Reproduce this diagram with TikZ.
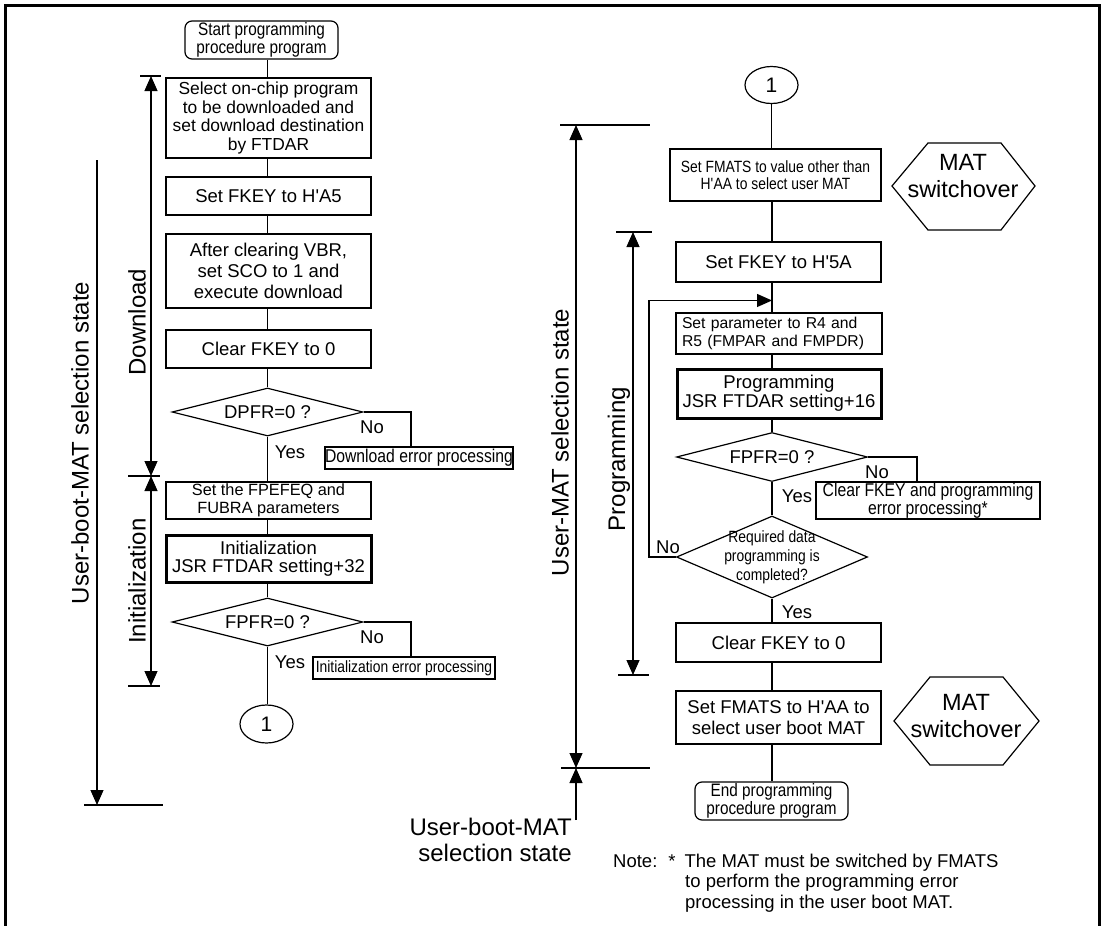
\documentclass[tikz,border=0pt]{standalone}
\usepackage{fontspec}
\setmainfont{Liberation Sans}
\newfontfamily\nar[FakeStretch=0.85]{Liberation Sans}
\usetikzlibrary{shapes.geometric,arrows.meta,calc}
\newcommand\fsz[2]{\fontsize{#1}{#2}\selectfont}
\newcommand\q{\textquotesingle}
\begin{document}
\begin{tikzpicture}[x=1pt,y=-1pt,
  every node/.style={inner sep=0pt},
  ln/.style={line width=1.2pt},
  box/.style={draw, line width=1.2pt, align=center, font=\fsz{18.5}{20}},
  tbox/.style={box, line width=3pt},
  nbox/.style={draw, line width=1.2pt, align=center, font=\nar\fsz{18.5}{17}},
  term/.style={draw, line width=1.2pt, rounded corners=7pt, align=center, font=\nar\fsz{18}{18}},
  dec/.style={draw, diamond, line width=1.2pt},
  conn/.style={draw, ellipse, line width=1.2pt, font=\fsz{21}{21}},
  lbl/.style={font=\fsz{18.5}{20}},
  biglbl/.style={font=\fsz{24}{26}},
  arr1/.style={-{Triangle[length=15pt,width=13pt]}},
  arr2/.style={{Triangle[length=15pt,width=13pt]}-{Triangle[length=15pt,width=13pt]}}
]
\useasboundingbox (0,0) rectangle (1104,926);
% frame
\draw[line width=3pt] (5,926) -- (5,5) -- (1099,5) -- (1099,926);

% ---------------- left column ----------------
\node[term, minimum width=153pt, minimum height=38pt] (start) at (261.5,40) {Start programming\\procedure program};
\node[box, minimum width=205pt, minimum height=80pt, font=\fsz{17.4}{18.5}] (b1) at (268.5,118) {Select on-chip program\\to be downloaded and\\set download destination\\by FTDAR};
\node[box, minimum width=205pt, minimum height=38pt] (b2) at (268.5,196) {Set FKEY to H\q A5};
\node[box, minimum width=205pt, minimum height=74pt, font=\fsz{18.5}{21}] (b3) at (268.5,271) {After clearing VBR,\\set SCO to 1 and\\execute download};
\node[box, minimum width=205pt, minimum height=38pt] (b4) at (268.5,349) {Clear FKEY to 0};
\node[dec, minimum width=191pt, minimum height=48pt] (d1) at (267.5,412) {};
\node[lbl] (d1t) at (d1) {DPFR=0 ?};
\node[nbox, minimum width=188pt, minimum height=22pt] (e1) at (419,458) {Download error processing};
\node[box, minimum width=205pt, minimum height=37pt, font=\fsz{16.3}{18}] (b5) at (268.5,500.5) {Set the FPEFEQ and\\FUBRA parameters};
\node[tbox, minimum width=205pt, minimum height=47pt, font=\fsz{18.5}{18.5}] (b6) at (268.5,558.5) {Initialization\\JSR FTDAR setting+32};
\node[dec, minimum width=191pt, minimum height=48pt] (d2) at (267.5,622) {};
\node[lbl] (d2t) at (d2) {FPFR=0 ?};
\node[nbox, minimum width=182pt, minimum height=22pt, font=\nar\fsz{16.3}{17}] (e2) at (404,668) {Initialization error processing};
\node[conn, minimum width=53pt, minimum height=38pt] (c2) at (266.5,724) {1};

\node[lbl] (no1) at (372,427) {No};
\node[lbl] (yes1) at (290,452) {Yes};
\node[lbl] (no2) at (372,637) {No};
\node[lbl] (yes2) at (290,662) {Yes};

\draw[ln] (start.south -| d1) -- (b1.north -| d1);
\draw[ln] (b1.south -| d1) -- (b2.north -| d1);
\draw[ln] (b2.south -| d1) -- (b3.north -| d1);
\draw[ln] (b3.south -| d1) -- (b4.north -| d1);
\draw[ln] (b4.south -| d1) -- (d1.north);
\draw[ln] (d1.south) -- (b5.north -| d1);
\draw[ln] (b5.south -| d1) -- (b6.north -| d1);
\draw[ln] (b6.south -| d1) -- (d2.north);
\draw[ln] (d2.south) -- (c2.north -| d2);
\draw[ln] (d1.east) -| ([xshift=-8pt]e1.north);
\draw[ln] (d2.east) -| ([xshift=7pt]e2.north);

% left range arrows
\coordinate (dA) at (151,76);
\coordinate (dB) at (151,476);
\coordinate (iB) at (151,686);
\coordinate (gA) at (97,160);
\coordinate (gB) at (97,805);
\draw[ln, arr2] (dA) -- (dB);
\draw[ln, arr2] (dB) -- (iB);
\draw[ln, arr1] (gA) -- (gB);
\draw[ln] (140,76) -- (161,76);
\draw[ln] (128,476) -- (160,476);
\draw[ln] (128,686) -- (160,686);
\draw[ln] (84,805) -- (163,805);
\node[biglbl, rotate=90] (lbA) at (80,443) {User-boot-MAT selection state};
\node[biglbl, rotate=90] (lbD) at (137,322) {Download};
\node[biglbl, rotate=90] (lbI) at (137,581) {Initialization};

% ---------------- right column ----------------
\node[conn, minimum width=53pt, minimum height=37pt] (c1) at (771.5,85) {1};
\node[nbox, minimum width=211pt, minimum height=52pt, font=\nar\fsz{16.3}{17.5}] (r1) at (775.5,175) {Set FMATS to value other than\\H\q AA to select user MAT};
\node[box, minimum width=205pt, minimum height=40pt] (r2) at (778.5,262) {Set FKEY to H\q 5A};
\node[box, minimum width=206pt, minimum height=41pt, align=left, text width=194pt, font=\fsz{15.7}{18}] (r3) at (779,333.5) {Set parameter to R4 and\\R5 (FMPAR and FMPDR)};
\node[tbox, minimum width=204pt, minimum height=49pt, font=\fsz{18.5}{19}] (r4) at (779,393.5) {Programming\\JSR FTDAR setting+16};
\node[dec, minimum width=191pt, minimum height=49pt] (d5) at (772,457) {};
\node[lbl] (d5t) at (d5) {FPFR=0 ?};
\node[nbox, minimum width=224pt, minimum height=37pt, font=\nar\fsz{18.5}{17}] (e5) at (928,500.5) {Clear FKEY and programming\\error processing*};
\node[dec, minimum width=191pt, minimum height=82pt] (d6) at (772,557) {};
\node[font=\nar\fsz{16.3}{19}, align=center] (d6t) at (d6) {Required data\\programming is\\completed?};
\node[box, minimum width=205pt, minimum height=39pt] (r7) at (778.5,642.5) {Clear FKEY to 0};
\node[box, minimum width=205pt, minimum height=53pt, font=\fsz{18.5}{21}] (r8) at (778.5,717.5) {Set FMATS to H\q AA to\\select user boot MAT};
\node[term, minimum width=153pt, minimum height=38pt] (end) at (771.5,801) {End programming\\procedure program};

\node[lbl] (no5) at (877,472) {No};
\node[lbl] (yes5) at (797,496) {Yes};
\node[lbl] (no6) at (668,547) {No};
\node[lbl] (yes6) at (797,612) {Yes};

\draw[ln] (c1.south) -- (r1.north -| c1);
\draw[ln] (r1.south -| d5) -- (r2.north -| d5);
\draw[ln] (r2.south -| d5) -- (r3.north -| d5);
\draw[ln] (r3.south -| d5) -- (r4.north -| d5);
\draw[ln] (r4.south -| d5) -- (d5.north);
\draw[ln] (d5.south) -- (d6.north);
\draw[ln] (d6.south) -- (r7.north -| d6);
\draw[ln] (r7.south -| d6) -- (r8.north -| d6);
\draw[ln] (r8.south -| d6) -- (end.north -| d6);
\draw[ln] (d5.east) -| ([xshift=-11pt]e5.north);
\coordinate (loopin) at ($(r2.south -| d5)!0.6!(r3.north -| d5)$);
\draw[ln, arr1] (d6.west) -- ++(-27,0) |- (loopin);

% hexagons
\draw[ln] (892,186) -- (928,143) -- (1001,143) -- (1035,186) -- (1001,230) -- (928,230) -- cycle;
\node[font=\fsz{23.5}{27}, align=center] (h1) at (963,176) {MAT\\switchover};
\draw[ln] (894,721) -- (930,677) -- (1003,677) -- (1039,721) -- (1003,765) -- (930,765) -- cycle;
\node[font=\fsz{23.5}{27}, align=center] (h2) at (966,716) {MAT\\switchover};

% right range arrows
\coordinate (uA) at (576,125);
\coordinate (uB) at (576,768);
\coordinate (uC) at (576,820);
\coordinate (pA) at (633,232);
\coordinate (pB) at (633,675);
\draw[ln, arr2] (uA) -- (uB);
\draw[ln, arr1] (uC) -- (uB);
\draw[ln, arr2] (pA) -- (pB);
\draw[ln] (560,125) -- (650,125);
\draw[ln] (561,768) -- (650,768);
\draw[ln] (616,232) -- (652,232);
\draw[ln] (618,675) -- (649,675);
\node[biglbl, rotate=90] (lbP) at (619,459) {Programming};
\node[biglbl, rotate=90] (lbU) at (560,442.5) {User-MAT selection state};
\node[biglbl, align=right, anchor=east] (lbB) at (572,840) {User-boot-MAT\\selection state};

% note
\node[font=\fsz{18.5}{20.5}, align=left, anchor=west] (note) at (613,883) {Note:\hspace{11pt}*\hspace{9pt}The MAT must be switched by FMATS\\\hspace*{72pt}to perform the programming error\\\hspace*{72pt}processing in the user boot MAT.};
\end{tikzpicture}
\end{document}
